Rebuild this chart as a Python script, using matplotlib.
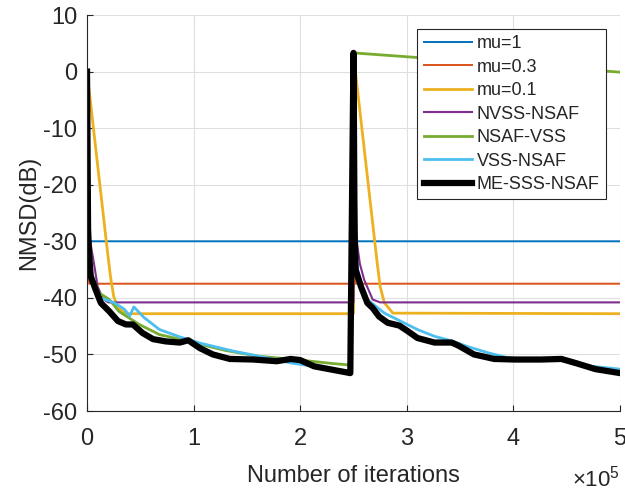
import matplotlib
matplotlib.use("Agg")
import matplotlib.pyplot as plt
from matplotlib.ticker import FuncFormatter

plt.rcParams['font.family'] = ['Liberation Sans', 'DejaVu Sans']
plt.rcParams['axes.unicode_minus'] = False
plt.rcParams['mathtext.fontset'] = 'custom'
plt.rcParams['mathtext.rm'] = 'Liberation Sans'

SCALE = 1e5
labels = ["mu=1", "mu=0.3", "mu=0.1", "NVSS-NSAF", "NSAF-VSS", "VSS-NSAF", "ME-SSS-NSAF"]
colors = ["#0072BD", "#D95319", "#EDB120", "#7E2F8E", "#77AC30", "#4DBEEE", "#000000"]

# x in units of 1e5 iterations, y in dB
mu1_x = [0, 0.008, 2.5, 2.5, 2.508, 5.0]
mu1_y = [0, -30.0, -30.0, 0, -30.0, -30.0]

mu03_x = [0, 0.01, 0.02, 2.5, 2.5, 2.51, 2.52, 5.0]
mu03_y = [0, -33.0, -37.5, -37.5, 0, -33.0, -37.5, -37.5]

mu01_x = [0, 0.19, 0.22, 0.25, 0.29, 0.37, 2.5, 2.5, 2.69, 2.72, 2.75, 2.79, 2.87, 5.0]
mu01_y = [0, -31.5, -36.2, -39.7, -41.8, -42.8, -42.8, 3.0, -28.5, -33.5, -38.0, -40.9, -42.7, -42.8]

nvss_x = [0, 0.03, 0.066, 0.1, 0.15, 0.2, 2.5, 2.5, 2.53, 2.56, 2.6, 2.68, 2.75, 5.0]
nvss_y = [0, -30.0, -34.0, -38.0, -40.2, -40.8, -40.8, 0, -30.0, -34.0, -36.8, -40.3, -40.8, -40.8]

nsafvss_x = [0, 0.01, 0.03, 0.11, 0.21, 0.3, 0.49, 0.68, 0.87, 1.06, 1.3, 1.6, 2.0, 2.3, 2.48, 2.5, 5.0]
nsafvss_y = [0, -28.0, -35.0, -39.1, -40.3, -42.4, -44.7, -46.5, -47.3, -48.2, -49.3, -50.3, -51.0, -51.6, -51.9, 3.3, -0.1]

vss_x = [0, 0.01, 0.03, 0.08, 0.12, 0.25, 0.35, 0.40, 0.44, 0.53, 0.68, 0.87, 1.06, 1.37, 1.69, 1.91, 2.2, 2.48,
         2.5, 2.52, 2.55, 2.63, 2.79, 2.94, 3.1, 3.26, 3.42, 3.57, 3.76, 3.95, 4.2, 4.45, 4.58, 5.0]
vss_y = [0, -27.0, -35.0, -38.5, -40.0, -40.8, -42.0, -43.2, -41.6, -43.4, -45.6, -46.9, -48.0, -49.4, -50.6, -51.5, -52.3, -53.0,
         3.0, -32.0, -36.8, -40.3, -42.7, -44.1, -45.6, -46.8, -47.6, -48.6, -49.7, -50.6, -50.9, -50.9, -51.8, -52.6]

me_x = [0, 0.01, 0.02, 0.035, 0.08, 0.13, 0.21, 0.29, 0.365, 0.43, 0.52, 0.62, 0.74, 0.87, 0.95, 1.06, 1.18, 1.34,
        1.56, 1.78, 1.91, 2.0, 2.13, 2.47, 2.5, 2.51, 2.52, 2.57, 2.63, 2.68, 2.74, 2.82, 2.93, 3.01, 3.1, 3.26, 3.42,
        3.48, 3.63, 3.82, 4.01, 4.26, 4.45, 4.58, 4.77, 5.0]
me_y = [0, -28.0, -32.5, -36.2, -38.5, -40.9, -42.4, -44.1, -44.7, -44.7, -46.2, -47.3, -47.7, -47.9, -47.5, -48.9, -50.0, -50.8,
        -50.9, -51.2, -50.8, -51.0, -52.1, -53.3, 3.3, -28.0, -35.0, -38.0, -40.9, -41.8, -43.3, -44.4, -44.9, -45.9, -47.1, -47.9, -47.9,
        -48.4, -50.0, -50.8, -50.9, -50.9, -50.8, -51.5, -52.6, -53.3]

series = [(mu1_x, mu1_y, 1.4), (mu03_x, mu03_y, 1.4), (mu01_x, mu01_y, 2.0), (nvss_x, nvss_y, 1.5),
          (nsafvss_x, nsafvss_y, 2.0), (vss_x, vss_y, 2.0), (me_x, me_y, 4.5)]

fig = plt.figure(figsize=(6.25, 4.92), dpi=100)
ax = fig.add_axes([87/625, 1 - 411/492, 533/625, 396/492])

for (xs, ys, lw), lab, c in zip(series, labels, colors):
    ax.plot([v * SCALE for v in xs], ys, color=c, lw=lw, label=lab)

ax.set_xlim(0, 5 * SCALE)
ax.set_ylim(-60, 10)
ax.set_xticks([i * SCALE for i in range(6)])
ax.set_yticks(range(-60, 11, 10))
ax.xaxis.set_major_formatter(FuncFormatter(lambda v, p: "%g" % (v / SCALE)))

axc = "#262626"
for s in ["top", "right"]:
    ax.spines[s].set_visible(False)
for s in ["left", "bottom"]:
    ax.spines[s].set_color(axc)
    ax.spines[s].set_linewidth(0.8)
ax.grid(True, color="#dfdfdf", lw=0.8)
ax.set_axisbelow(True)
ax.tick_params(direction="in", length=4, width=0.8, colors=axc, labelsize=17)
ax.tick_params(axis="x", pad=12)
ax.tick_params(axis="y", pad=7)

ax.set_xlabel("Number of iterations", fontsize=17, color=axc, labelpad=11)
ax.set_ylabel("NMSD(dB)", fontsize=17, color=axc, labelpad=2)
fig.text(620/625, 1 - 487/492, r"$\times\mathregular{10^5}$", fontsize=16, color=axc, ha="right", va="baseline")

leg = ax.legend(loc="upper right", bbox_to_anchor=(0.974, 0.965), fontsize=13, frameon=True, fancybox=False,
                edgecolor=axc, framealpha=1, handlelength=2.7, handletextpad=0.25, labelspacing=0.36,
                borderpad=0.35, borderaxespad=0)
leg.get_frame().set_linewidth(0.8)
for t in leg.get_texts():
    t.set_color(axc)

fig.savefig("out.png", dpi=100)
